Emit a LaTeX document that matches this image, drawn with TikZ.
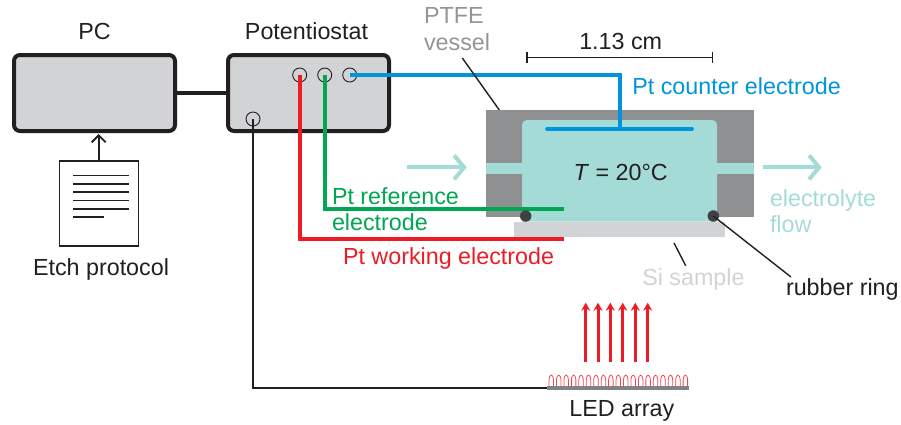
\documentclass[tikz,border=0pt]{standalone}
\usepackage{fontspec}
\setmainfont{Liberation Sans}
\usetikzlibrary{arrows.meta}
\definecolor{boxgray}{HTML}{D1D3D4}
\definecolor{ptfegray}{HTML}{8F9092}
\definecolor{labelgray}{HTML}{939598}
\definecolor{flowteal}{HTML}{A5DBD6}
\definecolor{ptblue}{HTML}{0095DA}
\definecolor{ptgreen}{HTML}{00A651}
\definecolor{ptred}{HTML}{ED1C24}
\definecolor{darkink}{HTML}{231F20}
\definecolor{ringgray}{HTML}{414042}
\definecolor{ledgray}{HTML}{808285}
\begin{document}
\begin{tikzpicture}[x=1pt,y=1pt]
 	\tikzstyle{every node}+=[inner sep=0pt,outer sep=0pt]
 	\tikzstyle{label}=[anchor=base west,font=\fontsize{23.3}{26}\selectfont,text=darkink]
 	\tikzstyle{unit}=[draw=darkink,fill=boxgray,line width=4pt,rounded corners=6pt,minimum width=161pt,minimum height=76pt]
 	\tikzstyle{port}=[draw=darkink,circle,line width=0.9pt,minimum size=14pt]
 	\tikzstyle{wire}=[line width=3.8pt]
 	\tikzstyle{leader}=[draw=darkink,line width=1.4pt]
 	\tikzstyle{sheetline}=[draw=darkink,line width=1.6pt]
 	\tikzstyle{flow}=[draw=flowteal,line width=4pt,-{Straight Barb[length=10pt,width=24pt]}]
 	\tikzstyle{light}=[draw=ptred,line width=3pt,-{Stealth[length=8pt,width=9pt]}]
 	\useasboundingbox (0,0) rectangle (901,-424);
 	% computer side
 	\node (pc) [unit] at (94.5,-93) {};
 	\node (pstat) [unit] at (308.5,-93) {};
 	\draw [draw=darkink,line width=3.5pt] (pc) -- (pstat);
 	\node (sheet) [draw=darkink,fill=white,line width=1.8pt,minimum width=79pt,minimum height=85pt] at (99,-203.5) {};
 	\draw [draw=darkink,line width=1.8pt,-{Straight Barb[length=7pt,width=14pt]}] (sheet.north -| 98.7,0) -- (98.7,-134);
 	\foreach \y in {175.3,184,192.2,200.5,209}
 		\draw [sheetline] (73.3,-\y) -- (129.3,-\y);
 	\draw [sheetline] (73.3,-217) -- (103.7,-217);
 	\node [label,anchor=base] at (94.5,-39) {PC};
 	\node [label,anchor=base] at (306.5,-39) {Potentiostat};
 	\node [label,anchor=base] at (101,-275) {Etch protocol};
 	% cell
 	\node (vessel) [fill=ptfegray,minimum width=268pt,minimum height=106.7pt] at (620,-163.3) {};
 	\node (channel) [fill=flowteal,minimum width=268pt,minimum height=10.4pt] at (620,-168.5) {};
 	\fill [flowteal] (522,-221.7) {[rounded corners=5pt] -- (522,-120) -- (717,-120)} -- (717,-221.7) -- cycle;
 	\node (sample) [fill=boxgray,minimum width=211pt,minimum height=15.3pt] at (619.5,-229.3) {};
 	% ports
 	\node (portw) [port] at (299.7,-75) {};
 	\node (portr) [port] at (324.7,-75) {};
 	\node (portc) [port] at (349.7,-75) {};
 	\node (portl) [port] at (253,-119) {};
 	% electrodes
 	\coordinate (plateL) at (547,-129);
 	\coordinate (plateR) at (692,-129);
 	\coordinate (plateM) at (620,-129);
 	\coordinate (refend) at (564,-209);
 	\coordinate (workend) at (564,-238.7);
 	\coordinate (ledstart) at (547,-388);
 	\draw [wire,draw=ptblue] (portc.center) -- (plateM |- portc.center) -- (plateM);
 	\draw [wire,draw=ptblue,line cap=round] (plateL) -- (plateR);
 	\draw [wire,draw=ptgreen] (portr.center) -- (portr.center |- refend) -- (refend);
 	\draw [wire,draw=ptred] (portw.center) -- (portw.center |- workend) -- (workend);
 	\draw [leader] (portl.center) -- (portl.center |- ledstart) -- (ledstart);
 	% rubber ring
 	\node (ringl) [fill=ringgray,circle,minimum size=11.5pt] at (525.7,-216) {};
 	\node (ringr) [fill=ringgray,circle,minimum size=11.5pt] at (713.3,-216) {};
 	\coordinate (ringlabel) at (791,-277);
 	\draw [leader] (ringr.center) -- (ringlabel);
 	\coordinate (vesselin) at (462.3,-58);
 	\coordinate (vesseltop) at (499.3,-110);
 	\draw [leader] (vesselin) -- (vesseltop);
 	\coordinate (sitop) at (674,-243);
 	\coordinate (sibot) at (685.7,-265.7);
 	\draw [leader] (sitop) -- (sibot);
 	% scale bar
 	\coordinate (barl) at (526.3,-57.7);
 	\coordinate (barr) at (713,-57.7);
 	\draw [leader,line width=1.5pt,{Bar[width=10.5pt]}-{Bar[width=10.5pt]}] (barl) -- (barr);
 	% flow arrows
 	\coordinate (inl) at (407.3,-167.3);
 	\coordinate (inr) at (466.7,-167.3);
 	\coordinate (outl) at (762.7,-167.3);
 	\coordinate (outr) at (821.7,-167.3);
 	\draw [flow] (inl) -- (inr);
 	\draw [flow] (outl) -- (outr);
 	% leds
 	\foreach \i in {0,...,18} {
 		\pgfmathsetmacro{\xa}{549+7.45*\i}
 		\draw [ptred!80!white,line width=0.8pt] (\xa,-386) -- (\xa,-380) .. controls (\xa+0.3,-373.5) and (\xa+4.2,-373.5) .. (\xa+4.5,-380) -- (\xa+4.5,-386);
 	}
 	\node (ledbar) [fill=ledgray,minimum width=142pt,minimum height=4pt] at (618,-388) {};
 	\foreach \x in {585.7,598,610.3,622.7,635.3,647.7}
 		\draw [light] (\x,-361.7) -- (\x,-302.7);
 	% text
 	\node [label,text=labelgray] at (424,-23) {PTFE};
 	\node [label,text=labelgray] at (424,-50) {vessel};
 	\node [label,anchor=base] at (620.7,-49) {1.13 cm};
 	\node [label,text=ptblue] at (632.3,-94.3) {Pt counter electrode};
 	\node [label,anchor=base] at (620.7,-180) {\textit{T} = 20°C};
 	\node [label,text=ptgreen] at (332,-204.7) {Pt reference};
 	\node [label,text=ptgreen] at (332,-230.7) {electrode};
 	\node [label,text=ptred] at (343,-264) {Pt working electrode};
 	\node [label,text=flowteal] at (770,-206.7) {electrolyte};
 	\node [label,text=flowteal] at (770,-232) {flow};
 	\node [label,text=boxgray] at (642.3,-285) {Si sample};
 	\node [label] at (786,-295) {rubber ring};
 	\node [label] at (569.3,-416) {LED array};
\end{tikzpicture}
\end{document}
